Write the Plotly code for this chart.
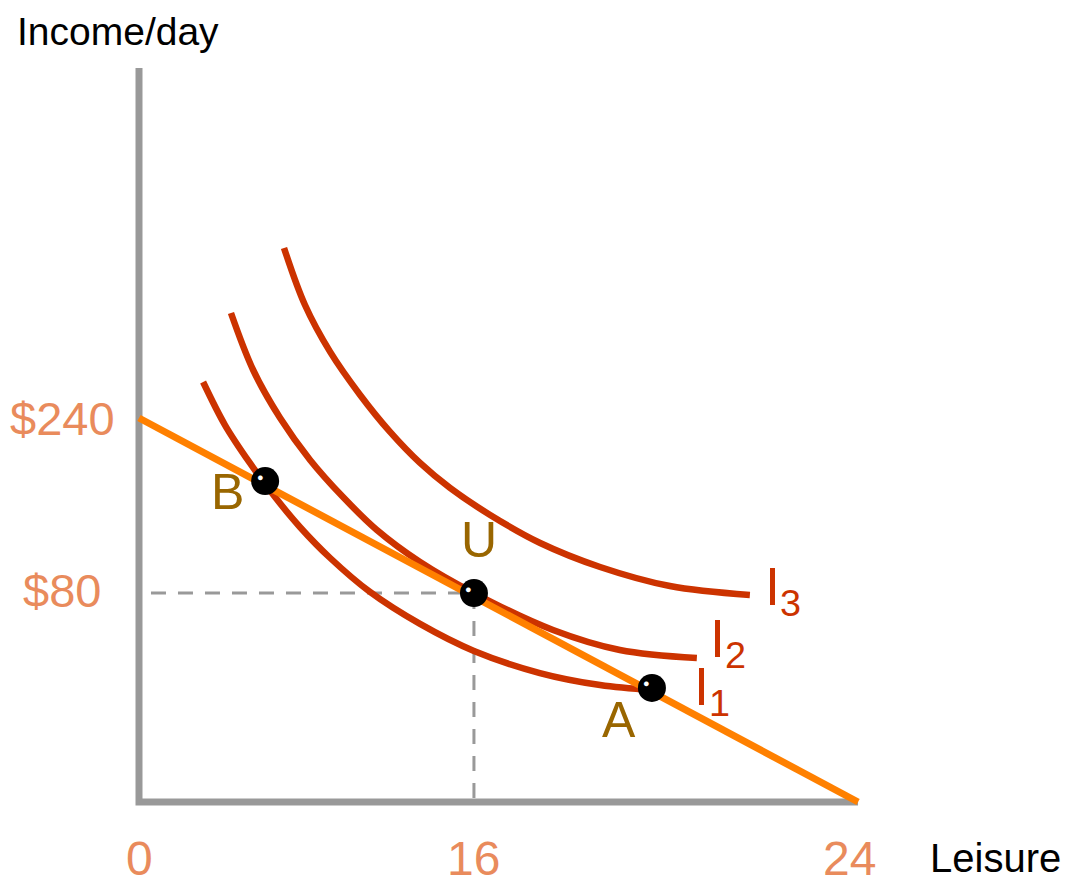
import plotly.graph_objects as go

# ---- data (chart units: leisure hours along x, income along y) ----
budget_x = [0, 24]
budget_y = [240, 0]

i1_x = [2.14, 2.87, 3.70, 4.54, 5.37, 6.38, 7.71, 9.38, 11.18, 13.38, 15.39, 17.12]
i1_y = [262.5, 235.6, 211.9, 190.6, 171.9, 152.5, 131.3, 111.3, 94.4, 80.6, 73.1, 70.0]

i2_x = [3.07, 3.81, 4.71, 5.71, 6.81, 7.94, 9.38, 11.18, 13.82, 16.05, 18.62]
i2_y = [305.6, 270.0, 240.0, 213.8, 190.6, 170.0, 150.0, 130.6, 107.5, 95.0, 90.0]

i3_x = [4.84, 5.54, 6.38, 7.38, 8.38, 9.38, 10.38, 11.72, 13.39, 15.39, 17.72, 20.39]
i3_y = [346.3, 310.6, 281.3, 254.4, 231.3, 211.9, 196.3, 179.4, 161.9, 146.9, 135.0, 129.4]

point_names = ["B", "U", "A"]
point_x = [4.21, 11.18, 17.12]
point_y = [200.6, 130.6, 71.3]
point_label_x = [2.94, 11.35, 16.02]
point_label_y = [193.5, 163.5, 51.5]

curve_names = ["I<sub>1</sub>", "I<sub>2</sub>", "I<sub>3</sub>"]
curve_label_x = [18.46, 18.99, 20.83]
curve_label_y = [70.0, 100.0, 132.5]

x_tick_pos = [0, 11.18, 23.73]
x_tick_text = ["0", "16", "24"]
y_tick_pos = [240, 131.9]
y_tick_text = ["$240", "$80"]

AXIS_TOP = 458.75

GRAY = "#999999"
ORANGE = "#FF8000"
RED = "#CC3300"
TICK = "#E98B5C"
GOLD = "#996600"
FONT = "Liberation Sans Narrow, Arial Narrow, Liberation Sans, Arial, sans-serif"

fig = go.Figure()

# axes
fig.add_trace(go.Scatter(x=[0, 0, budget_x[1]], y=[AXIS_TOP, 0, 0], mode="lines",
                         line=dict(color=GRAY, width=7), hoverinfo="skip"))
# dashed guides
ux, uy = point_x[1], point_y[1]
fig.add_trace(go.Scatter(x=[0.4, ux, ux], y=[uy, uy, 0], mode="lines",
                         line=dict(color=GRAY, width=3, dash="15px,12px"), hoverinfo="skip"))
# indifference curves
for cx, cy in [(i1_x, i1_y), (i2_x, i2_y), (i3_x, i3_y)]:
    fig.add_trace(go.Scatter(x=cx, y=cy, mode="lines",
                             line=dict(color=RED, width=6.5, shape="spline", smoothing=1.0),
                             hoverinfo="skip"))
# budget line
fig.add_trace(go.Scatter(x=budget_x, y=budget_y, mode="lines",
                         line=dict(color=ORANGE, width=7), hoverinfo="skip"))
# points
fig.add_trace(go.Scatter(x=point_x, y=point_y, mode="markers",
                         marker=dict(color="black", size=28, line=dict(width=0)),
                         hoverinfo="skip"))

ann = []
for px_, py_ in zip(point_x, point_y):
    ann.append(dict(x=px_, y=py_, text="●", showarrow=False, xshift=-5, yshift=5,
                    font=dict(color="white", size=11)))

# point labels
for n, lx, ly in zip(point_names, point_label_x, point_label_y):
    ann.append(dict(x=lx, y=ly, text=n, showarrow=False,
                    xanchor="center", yanchor="middle",
                    font=dict(family=FONT, size=50, color=GOLD)))

# curve labels
for n, lx, ly in zip(curve_names, curve_label_x, curve_label_y):
    ann.append(dict(x=lx, y=ly, text=n, showarrow=False,
                    xanchor="left", yanchor="middle",
                    font=dict(family=FONT, size=54, color=RED)))

# tick labels
for t, xp in zip(x_tick_text, x_tick_pos):
    ann.append(dict(x=xp, y=-35, text=t, showarrow=False, xanchor="center", yanchor="middle",
                    height=44, valign="middle",
                    font=dict(family=FONT, size=48, color=TICK)))
for t, yp in zip(y_tick_text, y_tick_pos):
    ann.append(dict(x=-2.57, y=yp, text=t, showarrow=False, xanchor="center", yanchor="middle",
                    font=dict(family=FONT, size=47, color=TICK)))

# axis titles
ann.append(dict(x=-4.14, y=481.9, text="Income/day", showarrow=False, xanchor="left",
                yanchor="middle", height=46, valign="middle",
                font=dict(family=FONT, size=39, color="black")))
ann.append(dict(x=26.34, y=-35, text="Leisure", showarrow=False, xanchor="left",
                yanchor="middle", height=44, valign="middle",
                font=dict(family=FONT, size=40, color="black")))

# the page body adds an 8px margin, so the figure is 8px smaller than the window
fig.update_layout(
    width=1064, height=875, margin=dict(l=0, r=0, t=0, b=0),
    paper_bgcolor="white", plot_bgcolor="white", showlegend=False,
    xaxis=dict(range=[-4.3725, 31.1415], visible=False, fixedrange=True),
    yaxis=dict(range=[-50.625, 496.25], visible=False, fixedrange=True),
    annotations=ann,
)

fig.write_html("out.html", config={"displayModeBar": False})
